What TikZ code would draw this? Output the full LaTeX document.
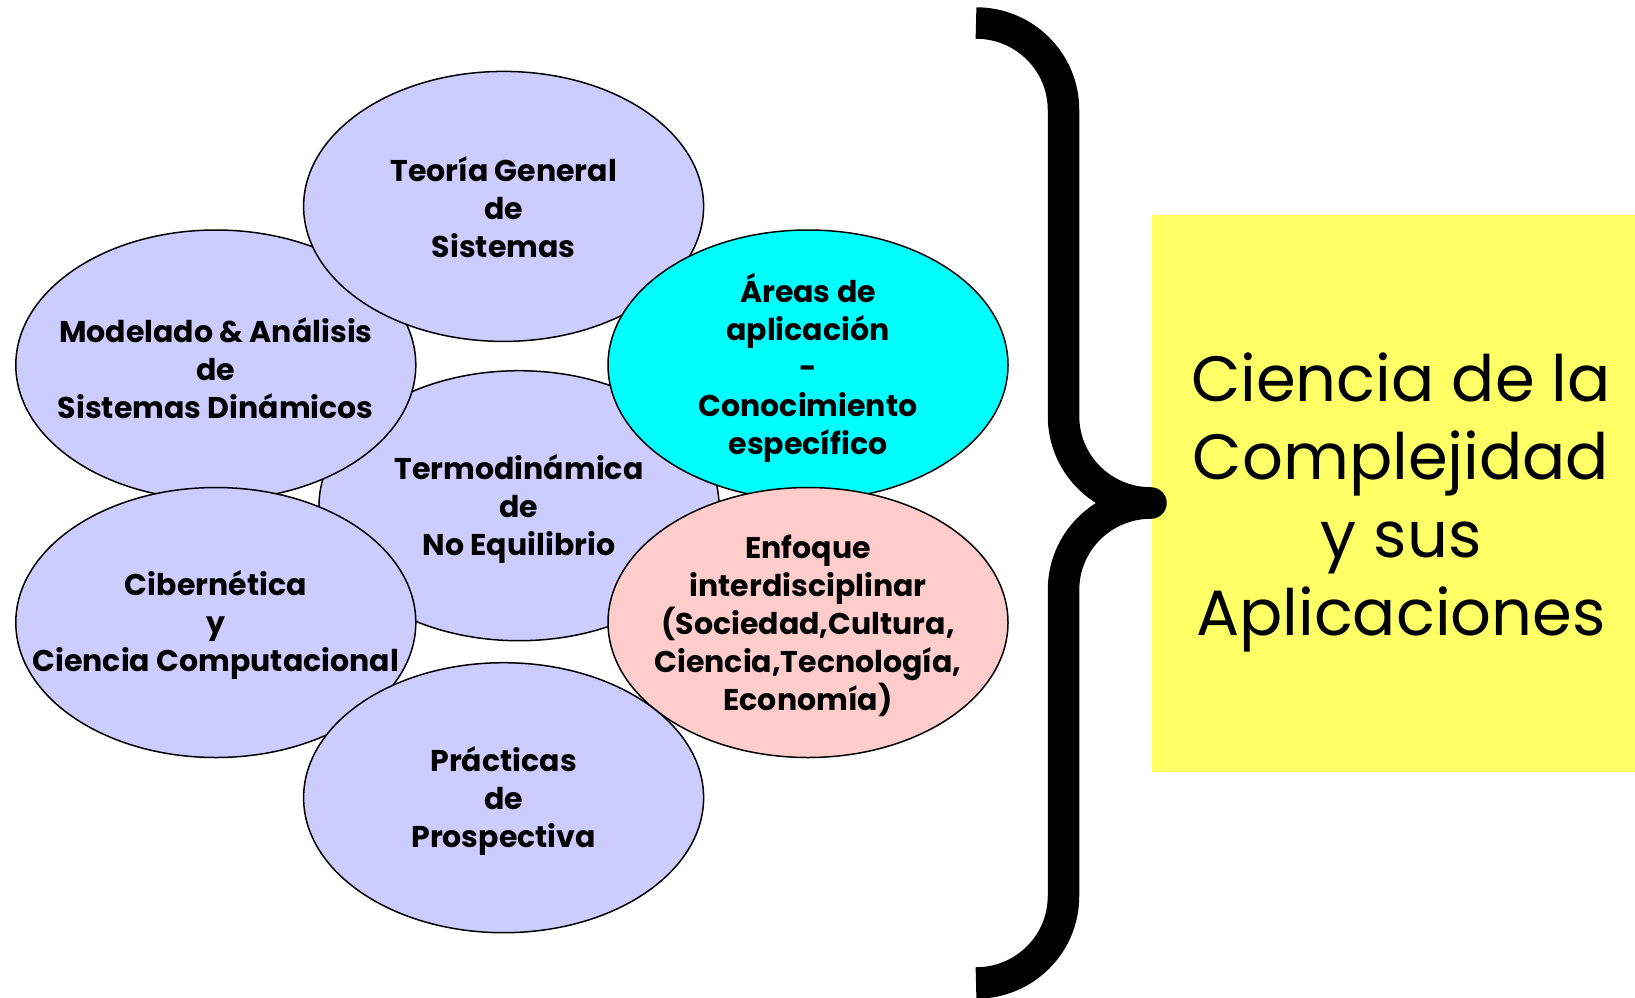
\documentclass[tikz,border=0pt]{standalone}
\usepackage{fontspec}
\setmainfont{Poppins}
\usetikzlibrary{shapes.geometric}
\definecolor{lav}{HTML}{CCCCFF}
\definecolor{cy}{HTML}{00FFFF}
\definecolor{pk}{HTML}{FFCCCC}
\definecolor{yl}{HTML}{FFFF66}
\begin{document}
\begin{tikzpicture}[x=1pt,y=-1pt,
  blob/.style={ellipse,draw=black,line width=1.5pt,minimum width=400pt,minimum height=270pt,inner sep=0pt},
  txt/.style={align=center,font=\fontsize{30}{38}\selectfont\bfseries,inner sep=0pt},
  bigtxt/.style={align=center,font=\fontsize{64}{78}\selectfont,inner sep=0pt}]
\useasboundingbox (0,0) rectangle (1635,997);
\fill[white] (0,0) rectangle (1635,997);
% ellipses, back to front
\node[blob,fill=lav] (termo) at (519,505.7) {};
\node[txt] (termoT) at ([yshift=-3pt]termo.center) {Termodinámica\\de\\No Equilibrio};
\node[blob,fill=lav] (model) at (215.8,365) {};
\node[txt] (modelT) at ([yshift=-3pt]model.center) {Modelado \& Análisis\\de\\Sistemas Dinámicos};
\node[blob,fill=lav] (teo) at (503.6,206.4) {};
\node[txt] (teoT) at ([yshift=-1pt]teo.center) {Teoría General\\de\\Sistemas};
\node[blob,fill=cy] (areas) at (808,365) {};
\node[txt] (areasT) at ([yshift=-3pt]areas.center) {Áreas de\\aplicación\\-\\Conocimiento\\específico};
\node[blob,fill=lav] (ciber) at (215.8,622.5) {};
\node[txt] (ciberT) at ([yshift=-2pt]ciber.center) {Cibernética\\y\\Ciencia Computacional};
\node[blob,fill=pk] (enf) at (808,622.5) {};
\node[txt] (enfT) at ([yshift=-3pt]enf.center) {Enfoque\\interdisciplinar\\(Sociedad,Cultura,\\Ciencia,Tecnología,\\Economía)};
\node[blob,fill=lav] (prac) at (503.6,797.7) {};
\node[txt] (pracT) at ([yshift=-3pt]prac.center) {Prácticas\\de\\Prospectiva};
% yellow box
\node[fill=yl,inner sep=0pt,minimum width=483pt,minimum height=557pt,anchor=north west] (box) at (1152,215) {};
\node[bigtxt] (boxT) at (1401,502) {Ciencia de la\\Complejidad\\y sus\\Aplicaciones};
% brace
\coordinate (btip) at (1151,503);
\draw[line width=31.5pt,line cap=butt] (976,23) .. controls (1024.3,23) and (1063.5,61.7) .. (1063.5,110) -- (1063.5,416)
  .. controls (1063.5,464.3) and (1102.7,503) .. (btip);
\draw[line width=31.5pt,line cap=butt] (btip) .. controls (1102.7,503) and (1063.5,541.7) .. (1063.5,590) -- (1063.5,896)
  .. controls (1063.5,944.3) and (1024.3,983) .. (976,983);
\fill (btip) circle[radius=15.75pt];
\end{tikzpicture}
\end{document}
